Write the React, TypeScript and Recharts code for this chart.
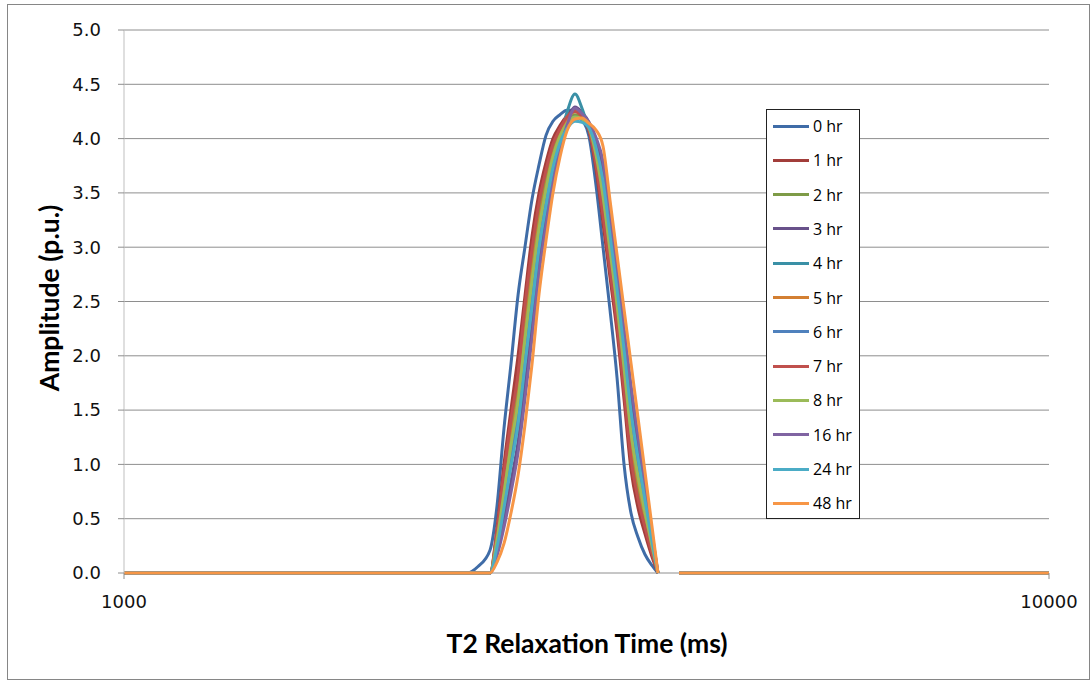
import { LineChart, Line, XAxis, YAxis, CartesianGrid } from 'recharts'

// T2 bins (ms), log spaced in the peak region
const t2Ms = [
  1000, 2349, 2414, 2487, 2531, 2575, 2620, 2667, 2713, 2761, 2810, 2859, 2909, 2960, 3012,
  3073, 3127, 3182, 3238, 3295, 3353, 3412, 3472, 3533, 3595, 3658, 3722, 3778, 3874, 3981, 10000,
]

const hours = ['0 hr', '1 hr', '2 hr', '3 hr', '4 hr', '5 hr', '6 hr', '7 hr', '8 hr', '16 hr', '24 hr', '48 hr']

const colors = [
  '#3F6CA7', '#A23D3A', '#7E9B47', '#68518A', '#3A90A6', '#D37F32',
  '#4F81BD', '#C0504D', '#9BBB59', '#8064A2', '#4BACC6', '#F79646',
]

const hr0 = [0, 0, 0.06, 0.21, 0.62, 1.33, 1.92, 2.56, 3.0, 3.44, 3.76, 4.03, 4.16, 4.22, 4.26, 4.26, 4.18, 4.02, 3.57, 3.0, 2.42, 1.8, 1.0, 0.55, 0.33, 0.17, 0.07, 0, null, 0, 0]
const hr1 = [0, 0, 0, 0, 0.42, 1.0, 1.5, 2.0, 2.55, 3.1, 3.5, 3.78, 4.0, 4.12, 4.21, 4.27, 4.2, 4.07, 3.72, 3.22, 2.72, 2.22, 1.6, 0.95, 0.6, 0.36, 0.15, 0, null, 0, 0]
const hr2 = [0, 0, 0, 0, 0.36, 0.85, 1.31, 1.73, 2.34, 2.86, 3.31, 3.64, 3.9, 4.06, 4.17, 4.22, 4.19, 4.09, 3.79, 3.36, 2.86, 2.36, 1.77, 1.15, 0.77, 0.47, 0.21, 0, null, 0, 0]
const hr3 = [0, 0, 0, 0, 0.2, 0.49, 0.84, 1.21, 1.73, 2.27, 2.85, 3.28, 3.65, 3.92, 4.16, 4.29, 4.24, 4.15, 3.97, 3.72, 3.22, 2.72, 2.18, 1.64, 1.18, 0.76, 0.35, 0, null, 0, 0]
const hr4 = [0, 0, 0, 0, 0.28, 0.67, 1.07, 1.47, 2.03, 2.57, 3.08, 3.46, 3.77, 3.99, 4.24, 4.41, 4.28, 4.08, 3.88, 3.54, 3.04, 2.54, 1.97, 1.39, 0.97, 0.62, 0.28, 0, null, 0, 0]
const hr5 = [0, 0, 0, 0, 0.32, 0.78, 1.22, 1.63, 2.21, 2.75, 3.22, 3.56, 3.85, 4.03, 4.17, 4.25, 4.21, 4.1, 3.83, 3.43, 2.93, 2.43, 1.85, 1.24, 0.85, 0.53, 0.23, 0, null, 0, 0]
const hr6 = [0, 0, 0, 0, 0.29, 0.71, 1.12, 1.52, 2.09, 2.63, 3.13, 3.49, 3.8, 4.0, 4.13, 4.2, 4.17, 4.1, 3.86, 3.5, 3.0, 2.5, 1.93, 1.34, 0.93, 0.59, 0.26, 0, null, 0, 0]
const hr7 = [0, 0, 0, 0, 0.39, 0.93, 1.41, 1.84, 2.46, 2.98, 3.41, 3.71, 3.95, 4.09, 4.2, 4.25, 4.2, 4.08, 3.76, 3.29, 2.79, 2.29, 1.68, 1.05, 0.68, 0.42, 0.18, 0, null, 0, 0]
const hr8 = [0, 0, 0, 0, 0.31, 0.74, 1.17, 1.58, 2.15, 2.69, 3.17, 3.53, 3.83, 4.02, 4.14, 4.2, 4.18, 4.1, 3.85, 3.47, 2.97, 2.47, 1.89, 1.29, 0.89, 0.56, 0.25, 0, null, 0, 0]
const hr16 = [0, 0, 0, 0, 0.16, 0.42, 0.74, 1.11, 1.6, 2.16, 2.76, 3.2, 3.6, 3.89, 4.12, 4.28, 4.23, 4.15, 4.01, 3.79, 3.29, 2.79, 2.26, 1.73, 1.26, 0.82, 0.37, 0, null, 0, 0]
const hr24 = [0, 0, 0, 0, 0.24, 0.6, 0.98, 1.37, 1.91, 2.45, 2.99, 3.38, 3.73, 3.96, 4.09, 4.16, 4.15, 4.1, 3.92, 3.61, 3.11, 2.61, 2.06, 1.49, 1.06, 0.67, 0.3, 0, null, 0, 0]
const hr48 = [0, 0, 0, 0, 0.1, 0.27, 0.55, 0.9, 1.36, 1.92, 2.57, 3.06, 3.5, 3.83, 4.07, 4.18, 4.19, 4.14, 4.08, 3.93, 3.43, 2.93, 2.43, 1.93, 1.43, 0.93, 0.43, 0, null, 0, 0]

const seriesValues = [hr0, hr1, hr2, hr3, hr4, hr5, hr6, hr7, hr8, hr16, hr24, hr48]

const yTicks = [0, 0.5, 1, 1.5, 2, 2.5, 3, 3.5, 4, 4.5, 5]
const xTicks = [1000, 10000]

const data = t2Ms.map((t, i) => {
  const row: Record<string, number | null> = { t2: t }
  hours.forEach((h, j) => {
    row[h] = seriesValues[j][i]
  })
  return row
})

const tickFont = { fontFamily: 'DejaVu Sans', fontSize: 18, fill: '#111' }
const titleFont = { fontFamily: 'Lato', fontWeight: 700, fontSize: 26.5, color: '#000' }

function LegendBox() {
  return (
    <div
      style={{
        position: 'absolute', left: 766, top: 109, width: 94, height: 410,
        border: '1px solid #222', background: '#fff', boxSizing: 'border-box',
      }}
    >
      {hours.map((h, i) => (
        <div
          key={h}
          style={{
            position: 'absolute', left: 6, top: 16 + i * 34.3 - 12, height: 24,
            display: 'flex', alignItems: 'center',
            fontFamily: 'Open Sans', fontSize: 16, color: '#000',
          }}
        >
          <span style={{ display: 'inline-block', width: 36, height: 3, background: colors[i], marginRight: 4 }} />
          <span>{h}</span>
        </div>
      ))}
    </div>
  )
}

export default function App() {
  return (
    <div style={{ position: 'absolute', left: 0, top: 0, width: 1091, height: 685, background: '#fff' }}>
      <LineChart width={1091} height={685} data={data} margin={{ top: 30, right: 42, bottom: 0, left: 0 }}>
        <CartesianGrid vertical={false} stroke="#8e8e8e" />
        <XAxis
          dataKey="t2"
          type="number"
          scale="log"
          domain={[1000, 10000]}
          ticks={xTicks}
          allowDataOverflow
          height={112}
          tickSize={6}
          tickMargin={16}
          tick={tickFont}
          axisLine={false}
          tickLine={{ stroke: '#8e8e8e' }}
        />
        <YAxis
          type="number"
          domain={[0, 5]}
          ticks={yTicks}
          width={124}
          tickSize={6}
          tickMargin={17}
          tick={tickFont}
          tickFormatter={(v: number) => v.toFixed(1)}
          axisLine={{ stroke: '#bfbfbf' }}
          tickLine={{ stroke: '#8e8e8e' }}
        />
        {hours.map((h, i) => (
          <Line
            key={h}
            dataKey={h}
            type="monotone"
            stroke={colors[i]}
            strokeWidth={3}
            dot={false}
            activeDot={false}
            isAnimationActive={false}
          />
        ))}
      </LineChart>
      <div
        style={{
          position: 'absolute', left: 49, top: 298, transform: 'translate(-50%, -50%) rotate(-90deg)',
          whiteSpace: 'nowrap', ...titleFont,
        }}
      >
        Amplitude (p.u.)
      </div>
      <div
        style={{
          position: 'absolute', left: 587, top: 643, transform: 'translate(-50%, -50%)',
          whiteSpace: 'nowrap', ...titleFont,
        }}
      >
        T2 Relaxation Time (ms)
      </div>
      <LegendBox />
      <div
        style={{
          position: 'absolute', left: 7, top: 4, width: 1083, height: 676,
          border: '1px solid #868686', pointerEvents: 'none', boxSizing: 'border-box',
        }}
      />
    </div>
  )
}
